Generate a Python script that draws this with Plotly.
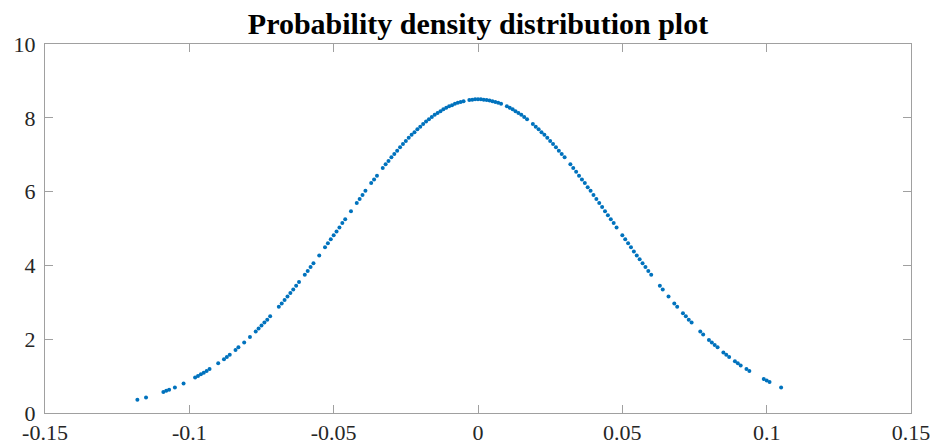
import plotly.graph_objects as go

# Sample positions (x) and their density values (y)
x_vals = [
    -0.118, -0.115, -0.109, -0.108, -0.107, -0.105, -0.102, -0.098, -0.097, -0.096,
    -0.095, -0.094, -0.093, -0.090, -0.088, -0.087, -0.086, -0.084, -0.083, -0.081,
    -0.079, -0.077, -0.076, -0.075, -0.074, -0.073, -0.072, -0.069, -0.068, -0.067,
    -0.066, -0.065, -0.064, -0.063, -0.062, -0.060, -0.059, -0.058, -0.057, -0.055,
    -0.053, -0.052, -0.051, -0.050, -0.049, -0.048, -0.047, -0.046, -0.044, -0.042,
    -0.041, -0.040, -0.039, -0.037, -0.036, -0.035, -0.033, -0.032, -0.031, -0.030,
    -0.029, -0.028, -0.027, -0.026, -0.025, -0.024, -0.023, -0.022, -0.021, -0.020,
    -0.019, -0.018, -0.017, -0.016, -0.015, -0.014, -0.013, -0.012, -0.011, -0.010,
    -0.009, -0.008, -0.007, -0.006, -0.005, -0.003, -0.002, -0.001, 0.000, 0.001,
    0.002, 0.003, 0.004, 0.005, 0.006, 0.007, 0.008, 0.010, 0.011, 0.012,
    0.013, 0.014, 0.015, 0.016, 0.017, 0.019, 0.020, 0.021, 0.022, 0.023,
    0.024, 0.025, 0.026, 0.027, 0.028, 0.029, 0.030, 0.032, 0.033, 0.034,
    0.035, 0.036, 0.037, 0.038, 0.039, 0.040, 0.041, 0.042, 0.043, 0.044,
    0.045, 0.046, 0.047, 0.048, 0.050, 0.051, 0.052, 0.053, 0.054, 0.055,
    0.056, 0.057, 0.058, 0.059, 0.060, 0.063, 0.064, 0.066, 0.068, 0.069,
    0.071, 0.072, 0.073, 0.074, 0.077, 0.078, 0.080, 0.081, 0.082, 0.083,
    0.085, 0.086, 0.087, 0.089, 0.090, 0.091, 0.093, 0.094, 0.099, 0.100,
    0.101, 0.105,
]
y_vals = [
    0.36, 0.42, 0.57, 0.60, 0.63, 0.69, 0.80, 0.96, 1.00, 1.05,
    1.09, 1.14, 1.19, 1.35, 1.46, 1.52, 1.58, 1.71, 1.78, 1.91,
    2.06, 2.21, 2.29, 2.37, 2.45, 2.53, 2.62, 2.88, 2.97, 3.06,
    3.16, 3.25, 3.35, 3.45, 3.55, 3.75, 3.85, 3.96, 4.06, 4.27,
    4.49, 4.60, 4.71, 4.82, 4.92, 5.03, 5.15, 5.25, 5.47, 5.69,
    5.80, 5.91, 6.02, 6.23, 6.33, 6.43, 6.64, 6.74, 6.83, 6.93,
    7.02, 7.11, 7.20, 7.29, 7.37, 7.46, 7.54, 7.61, 7.69, 7.76,
    7.83, 7.90, 7.96, 8.02, 8.08, 8.13, 8.18, 8.23, 8.27, 8.31,
    8.34, 8.38, 8.41, 8.43, 8.45, 8.48, 8.49, 8.50, 8.50, 8.50,
    8.49, 8.48, 8.47, 8.45, 8.43, 8.41, 8.38, 8.31, 8.27, 8.23,
    8.18, 8.13, 8.08, 8.02, 7.96, 7.83, 7.76, 7.69, 7.61, 7.54,
    7.46, 7.37, 7.29, 7.20, 7.11, 7.02, 6.93, 6.74, 6.64, 6.54,
    6.43, 6.33, 6.23, 6.12, 6.02, 5.91, 5.80, 5.69, 5.58, 5.47,
    5.36, 5.25, 5.15, 5.03, 4.82, 4.71, 4.60, 4.49, 4.38, 4.27,
    4.17, 4.06, 3.96, 3.85, 3.75, 3.45, 3.35, 3.16, 2.97, 2.88,
    2.70, 2.62, 2.53, 2.45, 2.21, 2.13, 1.98, 1.91, 1.84, 1.78,
    1.64, 1.58, 1.52, 1.40, 1.35, 1.29, 1.19, 1.14, 0.92, 0.88,
    0.84, 0.69,
]

x_tickvals = [-0.15, -0.1, -0.05, 0, 0.05, 0.1, 0.15]
x_ticktext = ["-0.15", "-0.1", "-0.05", "0", "0.05", "0.1", "0.15"]
y_tickvals = [0, 2, 4, 6, 8, 10]
y_ticktext = ["0", "2", "4", "6", "8", "10"]

title_text = "Probability density distribution plot"

FONT = "Liberation Serif, DejaVu Serif, serif"
AXIS_COLOR = "#a0a0a0"
TEXT_COLOR = "#262626"

fig = go.Figure()
fig.add_trace(go.Scatter(
    x=x_vals, y=y_vals, mode="markers",
    marker=dict(size=4, color="#0072BD", line=dict(width=0)),
    showlegend=False, hoverinfo="skip",
))

axis_common = dict(
    showgrid=False, zeroline=False, showline=True, linecolor=AXIS_COLOR,
    linewidth=1, mirror="allticks", ticks="inside", ticklen=8,
    tickcolor=AXIS_COLOR, tickwidth=1, automargin=False,
    tickfont=dict(family=FONT, size=22, color=TEXT_COLOR),
)

fig.update_layout(
    width=935, height=447,
    margin=dict(l=45, r=24, t=44, b=34, autoexpand=False),
    paper_bgcolor="white", plot_bgcolor="white",
    title=dict(
        text="<b>" + title_text + "</b>",
        x=0.5, xref="paper", xanchor="center",
        y=0.925, yref="container", yanchor="bottom",
        font=dict(family=FONT, size=30, color="#000000"),
    ),
    xaxis=dict(range=[-0.15, 0.15], tickvals=x_tickvals, ticktext=x_ticktext,
               ticklabelstandoff=0, **axis_common),
    yaxis=dict(range=[0, 10], tickvals=y_tickvals, ticktext=y_ticktext,
               ticklabelstandoff=4, **axis_common),
)

fig.write_html("out.html")
